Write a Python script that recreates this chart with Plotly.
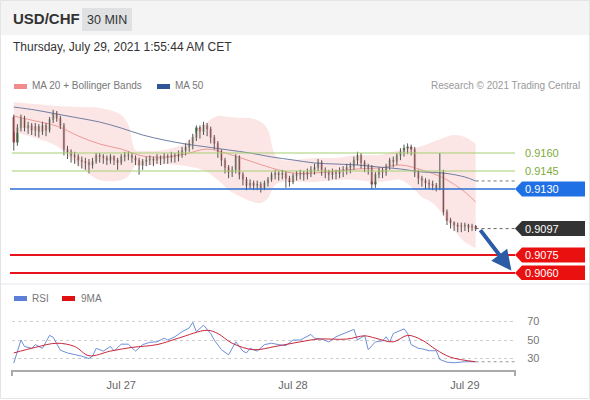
import pandas as pd
import plotly.graph_objects as go

# ---------------- data ----------------
first_open = 0.9190
closes = [0.9169,0.9181,0.9189,0.9181,0.9183,0.9179,0.9182,0.9178,0.9183,0.9179,
 0.9188,0.9193,0.9189,0.9183,0.9163,0.9161,0.9158,0.9157,0.9154,0.9153,
 0.9152,0.9150,0.9153,0.9158,0.9157,0.9156,0.9154,0.9157,0.9154,0.9152,
 0.9157,0.9158,0.9158,0.9156,0.9154,0.9150,0.9153,0.9154,0.9155,0.9154,
 0.9156,0.9155,0.9157,0.9156,0.9158,0.9157,0.9159,0.9162,0.9165,0.9168,
 0.9173,0.9181,0.9178,0.9183,0.9180,0.9173,0.9168,0.9161,0.9154,0.9148,
 0.9144,0.9146,0.9157,0.9142,0.9138,0.9133,0.9135,0.9133,0.9134,0.9131,
 0.9135,0.9138,0.9142,0.9143,0.9142,0.9143,0.9139,0.9136,0.9141,0.9142,
 0.9143,0.9142,0.9144,0.9146,0.9148,0.9152,0.9146,0.9144,0.9142,0.9144,
 0.9143,0.9145,0.9146,0.9148,0.9149,0.9154,0.9158,0.9152,0.9149,0.9148,
 0.9134,0.9142,0.9146,0.9144,0.9149,0.9154,0.9153,0.9158,0.9161,0.9164,
 0.9165,0.9163,0.9144,0.9139,0.9137,0.9135,0.9134,0.9133,0.9131,0.9144,
 0.9111,0.9104,0.9102,0.9100,0.9099,0.9099,0.9100,0.9098,0.9099,0.9097]
highs = [0.9192,0.9184,0.9192,0.9191,0.9186,0.9185,0.9185,0.9184,0.9186,0.9185,
 0.9190,0.9196,0.9195,0.9191,0.9185,0.9166,0.9163,0.9161,0.9159,0.9157,
 0.9156,0.9155,0.9156,0.9160,0.9160,0.9159,0.9158,0.9159,0.9158,0.9156,
 0.9159,0.9161,0.9161,0.9160,0.9158,0.9156,0.9155,0.9157,0.9158,0.9157,
 0.9159,0.9158,0.9160,0.9159,0.9161,0.9160,0.9162,0.9165,0.9168,0.9171,
 0.9176,0.9183,0.9183,0.9186,0.9185,0.9182,0.9175,0.9170,0.9163,0.9156,
 0.9150,0.9149,0.9159,0.9158,0.9144,0.9140,0.9138,0.9137,0.9137,0.9136,
 0.9137,0.9140,0.9144,0.9146,0.9145,0.9146,0.9145,0.9141,0.9143,0.9145,
 0.9146,0.9145,0.9147,0.9149,0.9151,0.9155,0.9154,0.9148,0.9146,0.9147,
 0.9146,0.9148,0.9149,0.9151,0.9152,0.9157,0.9161,0.9160,0.9154,0.9151,
 0.9150,0.9144,0.9148,0.9148,0.9151,0.9156,0.9157,0.9160,0.9164,0.9167,
 0.9168,0.9167,0.9165,0.9146,0.9141,0.9139,0.9138,0.9137,0.9135,0.9160,
 0.9146,0.9113,0.9106,0.9103,0.9102,0.9102,0.9102,0.9101,0.9101,0.9100]
lows = [0.9162,0.9166,0.9178,0.9178,0.9176,0.9175,0.9174,0.9173,0.9175,0.9174,
 0.9177,0.9185,0.9186,0.9180,0.9158,0.9155,0.9152,0.9151,0.9149,0.9147,
 0.9146,0.9143,0.9147,0.9151,0.9152,0.9151,0.9150,0.9151,0.9150,0.9146,
 0.9150,0.9153,0.9154,0.9152,0.9150,0.9142,0.9146,0.9149,0.9150,0.9149,
 0.9151,0.9150,0.9151,0.9151,0.9152,0.9152,0.9153,0.9156,0.9158,0.9161,
 0.9163,0.9170,0.9172,0.9175,0.9174,0.9168,0.9163,0.9156,0.9149,0.9143,
 0.9139,0.9140,0.9143,0.9138,0.9133,0.9129,0.9130,0.9129,0.9129,0.9127,
 0.9129,0.9132,0.9136,0.9138,0.9137,0.9138,0.9131,0.9132,0.9134,0.9137,
 0.9138,0.9137,0.9138,0.9140,0.9142,0.9145,0.9141,0.9139,0.9137,0.9138,
 0.9138,0.9139,0.9140,0.9142,0.9143,0.9146,0.9150,0.9147,0.9144,0.9142,
 0.9130,0.9131,0.9139,0.9139,0.9141,0.9146,0.9148,0.9150,0.9154,0.9157,
 0.9159,0.9158,0.9140,0.9134,0.9132,0.9130,0.9130,0.9129,0.9128,0.9129,
 0.9108,0.9100,0.9097,0.9095,0.9094,0.9094,0.9095,0.9094,0.9095,0.9095]

ma_idx = [0,6,12,18,24,30,36,42,48,54,60,66,72,78,84,90,96,102,108,114,120,126,129]
ma20 = [0.91908,0.91867,0.91825,0.91742,0.91675,0.91633,0.91575,0.91567,0.91592,0.91633,
        0.91592,0.91533,0.91475,0.91433,0.91433,0.91450,0.91467,0.91475,0.91500,0.91458,
        0.91392,0.91275,0.91192]
ma50 = [0.91983,0.91958,0.91925,0.91892,0.91858,0.91808,0.91750,0.91708,0.91675,0.91650,
        0.91625,0.91600,0.91567,0.91542,0.91517,0.91508,0.91500,0.91483,0.91467,0.91442,
        0.91433,0.91400,0.91367]

bb_idx = [0,6,12,18,24,30,32,34,36,42,48,51,54,57,60,63,66,69,71,73,75,84,90,96,102,108,
          112,114,117,120,123,126,129]
bb_upper = [0.92025,0.92008,0.91992,0.91983,0.91975,0.91917,0.91833,0.91625,0.91617,0.91625,
            0.91683,0.91775,0.91858,0.91908,0.91900,0.91892,0.91892,0.91858,0.91792,0.91583,
            0.91542,0.91558,0.91558,0.91583,0.91583,0.91625,0.91642,0.91658,0.91692,0.91725,
            0.91750,0.91733,0.91675]
bb_lower = [0.91775,0.91725,0.91658,0.91500,0.91375,0.91375,0.91408,0.91492,0.91492,0.91508,
            0.91492,0.91475,0.91442,0.91375,0.91292,0.91242,0.91200,0.91183,0.91225,0.91333,
            0.91358,0.91358,0.91375,0.91375,0.91358,0.91375,0.91292,0.91233,0.91183,0.91083,
            0.90958,0.90858,0.90808]

rsi_idx = [0,2,3,5,6,8,10,11,13,15,19,21,22,23,25,27,28,30,32,34,36,38,40,42,43,45,47,49,50,
           51,53,55,56,58,60,61,62,64,65,66,68,70,72,74,76,78,80,83,84,86,88,90,92,95,96,98,
           99,101,103,104,105,106,109,110,111,113,114,116,118,119,121,123,126,129]
rsi_val = [25,50,43,41,45,41,55,53,39,36,32.5,30,32.5,41,38,43,38,45.5,45.5,38,45,47.5,48,
           52,50,53.5,59,63,69,59,66,57,50,39.5,34,41,48,38,36,41,38,45,46.5,45,44,50,50,56,
           52,51,48,53.5,57,61.5,50,55,39.5,48,49,53.5,48,57,62,57,45,41,40.5,38.4,38.4,29,26,
           25.4,26.5,26.5]
ma9_idx = [0,6,12,17,21,27,33,40,46,54,57,61,67,73,80,85,93,98,101,106,110,114,118,122,129]
ma9_val = [36,42,46.5,43,33,38,42,45,52,60.5,57,46.5,39.5,43,48,51,51,54.5,52,48,55,50,
           39.5,31.4,26.5]

green_levels = [0.9160, 0.9145]
pivot_level = 0.9130
red_levels = [0.9075, 0.9060]
last_label = "0.9097"
target_time = "2021-07-29 06:30"
target_price = 0.9062
day_ticks = ["2021-07-27", "2021-07-28", "2021-07-29"]
day_labels = ["Jul 27", "Jul 28", "Jul 29"]
rsi_ticks = [30, 50, 70]

# ---------------- build ----------------
times = pd.date_range("2021-07-26 09:00", periods=len(closes), freq="30min")
opens = [first_open] + closes[:-1]
x_start, x_end = "2021-07-26 08:45", "2021-07-29 07:00"

FONT = "Liberation Sans, Arial, Helvetica, sans-serif"
W, H = 590, 400
def px(x): return x / W
def py(y): return 1 - y / H

fig = go.Figure()

# Bollinger band fill
bbt = [times[i] for i in bb_idx]
fig.add_trace(go.Scatter(x=bbt, y=bb_upper, mode="lines", line=dict(color="rgba(248,200,200,0.0)", width=0, shape="spline"),
                         hoverinfo="skip", showlegend=False))
fig.add_trace(go.Scatter(x=bbt, y=bb_lower, mode="lines", fill="tonexty", fillcolor="rgba(250,215,215,0.65)",
                         line=dict(color="rgba(248,200,200,0.0)", width=0, shape="spline"),
                         hoverinfo="skip", showlegend=False))
mat = [times[i] for i in ma_idx]
fig.add_trace(go.Scatter(x=mat, y=ma20, mode="lines", line=dict(color="#ec9a95", width=1, shape="spline"),
                         hoverinfo="skip", showlegend=False))
fig.add_trace(go.Scatter(x=mat, y=ma50, mode="lines", line=dict(color="#6f7fa3", width=1, shape="spline"),
                         hoverinfo="skip", showlegend=False))

# wicks
wx, wy = [], []
for t, h, l in zip(times, highs, lows):
    wx += [t, t, None]
    wy += [l, h, None]
fig.add_trace(go.Scatter(x=wx, y=wy, mode="lines", line=dict(color="#555555", width=1),
                         hoverinfo="skip", showlegend=False))
# bodies
body_hi = [max(o, c) for o, c in zip(opens, closes)]
body_lo = [min(o, c) for o, c in zip(opens, closes)]
fig.add_trace(go.Candlestick(x=times, open=opens, close=closes, high=body_hi, low=body_lo,
                             increasing=dict(line=dict(color="#3f7a36", width=0.5), fillcolor="#3f7a36"),
                             decreasing=dict(line=dict(color="#c2272d", width=0.5), fillcolor="#c2272d"),
                             showlegend=False, hoverinfo="skip"))

# RSI panel
fig.add_trace(go.Scatter(x=[times[i] for i in rsi_idx], y=rsi_val, yaxis="y2", mode="lines",
                         line=dict(color="#6f8fd8", width=1), hoverinfo="skip", showlegend=False))
fig.add_trace(go.Scatter(x=[times[i] for i in ma9_idx], y=ma9_val, yaxis="y2", mode="lines",
                         line=dict(color="#c8283a", width=1, shape="spline"), hoverinfo="skip", showlegend=False))

shapes = []
# header bar + frame
shapes.append(dict(type="rect", xref="paper", yref="paper", x0=0, x1=1, y0=py(35), y1=1,
                   fillcolor="#f4f4f4", line=dict(width=0), layer="below"))
shapes.append(dict(type="rect", xref="paper", yref="paper", x0=px(82), x1=px(132), y0=py(31), y1=py(8),
                   fillcolor="#dfe1e3", line=dict(width=0)))
shapes.append(dict(type="rect", xref="paper", yref="paper", x0=px(0.5), x1=px(589.5), y0=py(398.5), y1=py(0.5),
                   fillcolor="rgba(0,0,0,0)", line=dict(color="#e4e4e4", width=1)))
shapes.append(dict(type="line", xref="paper", yref="paper", x0=0, x1=1, y0=py(284), y1=py(284),
                   line=dict(color="#e3e8ee", width=1)))
# legend swatches
shapes.append(dict(type="rect", xref="paper", yref="paper", x0=px(14), x1=px(27), y0=py(89), y1=py(84),
                   fillcolor="#f28b8b", line=dict(width=0)))
shapes.append(dict(type="rect", xref="paper", yref="paper", x0=px(157), x1=px(170), y0=py(89), y1=py(84),
                   fillcolor="#2f5597", line=dict(width=0)))
shapes.append(dict(type="rect", xref="paper", yref="paper", x0=px(14), x1=px(27), y0=py(301), y1=py(296),
                   fillcolor="#5b7fd6", line=dict(width=0)))
shapes.append(dict(type="rect", xref="paper", yref="paper", x0=px(62), x1=px(75), y0=py(301), y1=py(296),
                   fillcolor="#e01010", line=dict(width=0)))

# level lines
for lv in green_levels:
    shapes.append(dict(type="line", xref="x domain", yref="y", x0=0, x1=1, y0=lv, y1=lv,
                       line=dict(color="#a5cf70", width=1)))
shapes.append(dict(type="line", xref="x domain", yref="y", x0=-0.004, x1=1, y0=pivot_level, y1=pivot_level,
                   line=dict(color="#2a6fd6", width=1.5)))
for lv in red_levels:
    shapes.append(dict(type="line", xref="x domain", yref="y", x0=-0.004, x1=1, y0=lv, y1=lv,
                       line=dict(color="#e8141c", width=2)))
# dotted extensions
shapes.append(dict(type="line", xref="x", yref="y", x0=times[-1], x1=x_end, y0=closes[-1], y1=closes[-1],
                   line=dict(color="#666", width=1, dash="dot")))
shapes.append(dict(type="line", xref="x", yref="y", x0=times[-1], x1=x_end, y0=ma50[-1], y1=ma50[-1],
                   line=dict(color="#777", width=1, dash="dot")))
shapes.append(dict(type="line", xref="x", yref="y2", x0=times[-1], x1=x_end, y0=rsi_val[-1], y1=rsi_val[-1],
                   line=dict(color="#999", width=1, dash="dot")))
# x-axis end ticks
for xd in (0, 1):
    shapes.append(dict(type="line", xref="x domain", yref="paper", x0=xd, x1=xd, y0=py(370), y1=py(376),
                       line=dict(color="#aaaaaa", width=2)))

# price label boxes
label_x = px(515)
box_path = "M0,0 L7,7.5 L70,7.5 L70,-7.5 L7,-7.5 Z"
for lv, col in [(pivot_level, "#1f6fe5"), (closes[-1], "#333333"),
                (red_levels[0], "#ea1010"), (red_levels[1], "#ea1010")]:
    shapes.append(dict(type="path", xref="paper", yref="y", xsizemode="pixel", ysizemode="pixel",
                       xanchor=label_x, yanchor=lv, path=box_path, fillcolor=col, line=dict(width=0)))

annotations = []
def txt(x, y, s, size=11, color="#333", xanchor="left", bold=False, yref="paper"):
    annotations.append(dict(x=x, y=y, xref="paper", yref=yref, text=("<b>%s</b>" % s) if bold else s,
                            showarrow=False, xanchor=xanchor, yanchor="middle",
                            font=dict(family=FONT, size=size, color=color)))

txt(px(11), py(19), "USD/CHF", size=15, color="#333", bold=True)
txt(px(107), py(20), "30 MIN", size=12.5, color="#333", xanchor="center")
txt(px(11), py(47), "Thursday, July 29, 2021 1:55:44 AM CET", size=12, color="#333")
txt(px(30), py(86), "MA 20 + Bollinger Bands", size=10, color="#777")
txt(px(173), py(86), "MA 50", size=10, color="#777")
txt(px(582), py(86), "Research © 2021 Trading Central", size=10, color="#999", xanchor="right")
txt(px(30), py(298.5), "RSI", size=10, color="#777")
txt(px(79), py(298.5), "9MA", size=10, color="#777")

for lv in green_levels:
    txt(px(523), lv, "%.4f" % lv, size=11, color="#7ea93a", yref="y")
txt(px(523), pivot_level, "%.4f" % pivot_level, size=11, color="white", yref="y")
txt(px(523), closes[-1], last_label, size=11, color="white", yref="y")
for lv in red_levels:
    txt(px(523), lv, "%.4f" % lv, size=11, color="white", yref="y")

# forecast arrow
annotations.append(dict(x=target_time, y=target_price, xref="x", yref="y",
                        ax="2021-07-29 02:00", ay=closes[-1], axref="x", ayref="y",
                        showarrow=True, arrowhead=2, arrowsize=1, arrowwidth=4,
                        arrowcolor="#2d5ca6", text=""))

# price y mapping: y_px = 189 - (p-0.9130)*12000 ; panel px 95..280
p_top = 0.9130 + (189 - 95) / 12000
p_bot = 0.9130 + (189 - 280) / 12000
# rsi mapping: y_px = 340 - (r-50)*0.925 ; panel px 305..370
r_top = 50 + (340 - 305) / 0.925
r_bot = 50 + (340 - 370) / 0.925

fig.update_layout(
    width=W, height=H, autosize=False,
    margin=dict(l=0, r=0, t=0, b=0),
    paper_bgcolor="white", plot_bgcolor="rgba(0,0,0,0)",
    showlegend=False, hovermode=False,
    font=dict(family=FONT),
    shapes=shapes, annotations=annotations,
    xaxis=dict(domain=[px(12), px(515)], range=[x_start, x_end], type="date", anchor="y2",
               rangeslider=dict(visible=False), showgrid=False, zeroline=False,
               showline=True, linecolor="#aaaaaa", linewidth=2,
               tickmode="array", tickvals=day_ticks, ticktext=day_labels,
               ticks="outside", ticklen=4, tickcolor="rgba(0,0,0,0)",
               tickfont=dict(family=FONT, size=11, color="#666")),
    yaxis=dict(domain=[py(280), py(95)], range=[p_bot, p_top], showgrid=False, zeroline=False,
               showticklabels=False, showline=False, fixedrange=True),
    yaxis2=dict(domain=[py(370), py(305)], range=[r_bot, r_top], anchor="x", side="right",
                showgrid=True, gridcolor="#cfcfcf", griddash="dot", gridwidth=1, zeroline=False,
                tickmode="array", tickvals=rsi_ticks, ticks="outside", ticklen=9,
                tickcolor="rgba(0,0,0,0)", tickfont=dict(family=FONT, size=11, color="#777"),
                showline=False),
)

fig.write_html("out.html", config={"displayModeBar": False, "staticPlot": True},
               post_script="document.body.style.margin='0';document.body.style.padding='0';")
